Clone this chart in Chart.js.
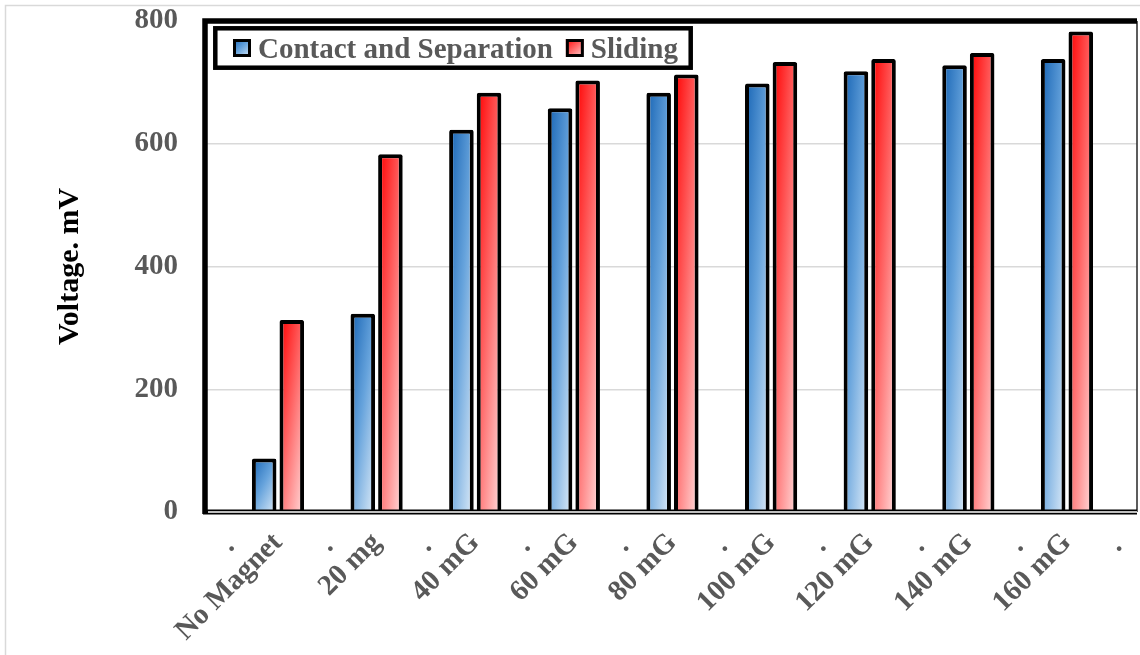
<!DOCTYPE html>
<html>
<head>
<meta charset="utf-8">
<script src="https://cdn.jsdelivr.net/npm/chart.js@4.4.1/dist/chart.umd.min.js"></script>
<style>
  html, body { margin: 0; padding: 0; background: #fff; }
  canvas { display: block; }
</style>
</head>
<body>
<canvas id="chart" width="1140" height="655"></canvas>
<script>
// data
const categories = ["No Magnet", "20 mg", "40 mG", "60 mG", "80 mG", "100 mG", "120 mG", "140 mG", "160 mG"];
const contactValues = [87, 323, 623, 658, 683, 698, 718, 728, 738];
const slidingValues = [313, 583, 683, 703, 713, 733, 738, 748, 783];
const seriesNames = ["Contact and Separation", "Sliding"];
const yTicks = [0, 200, 400, 600, 800];
const dividerTicks = [-0.47, 0.53, 1.53, 2.53, 3.53, 4.53, 5.53, 6.53, 7.53, 8.53];

const FONT = "'Liberation Serif', 'Times New Roman', serif";
const GREY = "#595959";
const CAT_PCT = 0.56;
const BAR_PCT = 0.89;
const X_MIN = -0.74, X_MAX = 8.71;

const BLUE = [[0, "#1764b4"], [0.45, "#66a3dc"], [1, "#eaf3fb"]];
const RED = [[0, "#ff0000"], [0.45, "#ff6666"], [1, "#ffe8e8"]];

function makeGrad(c, x0, y0, w, h, stops) {
  // diagonal-ish gradient: dark top-left, light bottom-right
  const a = 0.45, b = 0.5;
  const L2 = 1 / (a * a / (w * w) + b * b / (h * h));
  const g = c.createLinearGradient(x0, y0, x0 + a * L2 / w, y0 + b * L2 / h);
  stops.forEach(s => g.addColorStop(s[0], s[1]));
  return g;
}

function barFill(ctx, stops) {
  const chart = ctx.chart;
  if (ctx.type !== "data" || !chart.chartArea || !ctx.parsed) return stops[1][1];
  const xs = chart.scales.x, ys = chart.scales.y;
  const unit = Math.abs(xs.getPixelForValue(1) - xs.getPixelForValue(0));
  const slot = unit * CAT_PCT / 2;
  const w = slot * BAR_PCT;
  const cx = xs.getPixelForValue(ctx.parsed.x) + (ctx.datasetIndex - 0.5) * slot;
  const top = ys.getPixelForValue(ctx.parsed.y);
  const base = ys.getPixelForValue(0);
  return makeGrad(chart.ctx, cx - w / 2, top, w, Math.max(base - top, 1), stops);
}

const framePlugin = {
  id: "frame",
  afterDraw(chart) {
    const c = chart.ctx;
    const a = chart.chartArea;
    c.save();
    // outer light border
    c.strokeStyle = "#d9d9d9";
    c.lineWidth = 1.5;
    c.strokeRect(5.5, 5.5, 1160, 680);
    // plot frame
    c.strokeStyle = "#262626";
    c.lineWidth = 1.5;
    c.beginPath();
    c.moveTo(a.right, a.top);
    c.lineTo(a.right, a.bottom);
    c.stroke();
    c.strokeStyle = "#000";
    c.lineWidth = 5.5;
    c.beginPath();
    c.moveTo(a.left, a.bottom + 2);
    c.lineTo(a.left, a.top);
    c.lineTo(a.right, a.top);
    c.stroke();
    c.lineWidth = 5;
    c.beginPath();
    c.moveTo(a.left - 2, a.bottom);
    c.lineTo(a.right, a.bottom);
    c.stroke();
    c.strokeStyle = "#c0c0c0";
    c.lineWidth = 2;
    c.beginPath();
    c.moveTo(a.left + 3, a.bottom);
    c.lineTo(a.right, a.bottom);
    c.stroke();

    // legend
    c.fillStyle = "#fff";
    c.fillRect(215, 28, 476, 40);
    c.strokeStyle = "#000";
    c.lineWidth = 4.5;
    c.strokeRect(215.3, 28.3, 475.4, 39.4);
    c.font = "bold 29px " + FONT;
    c.textBaseline = "alphabetic";
    c.textAlign = "left";
    let x = 233;
    [BLUE, RED].forEach((stops, i) => {
      c.fillStyle = makeGrad(c, x, 39, 18, 18, stops);
      c.fillRect(x, 39, 18, 18);
      c.strokeStyle = "#000";
      c.lineWidth = 3;
      c.strokeRect(x + 1.5, 40.5, 15, 15);
      c.fillStyle = GREY;
      c.fillText(seriesNames[i], x + 25, 58);
      x = x + 25 + c.measureText(seriesNames[i]).width + 13;
    });
    c.restore();
  }
};

const tickFont = { family: FONT, size: 29, weight: "bold" };

new Chart(document.getElementById("chart"), {
  type: "bar",
  data: {
    datasets: [
      {
        label: seriesNames[0],
        data: categories.map((c, i) => ({ x: i, y: contactValues[i] })),
        backgroundColor: ctx => barFill(ctx, BLUE),
        borderColor: "#000",
        borderWidth: 4,
        borderRadius: 2,
        categoryPercentage: CAT_PCT,
        barPercentage: BAR_PCT
      },
      {
        label: seriesNames[1],
        data: categories.map((c, i) => ({ x: i, y: slidingValues[i] })),
        backgroundColor: ctx => barFill(ctx, RED),
        borderColor: "#000",
        borderWidth: 4,
        borderRadius: 2,
        categoryPercentage: CAT_PCT,
        barPercentage: BAR_PCT
      }
    ]
  },
  options: {
    responsive: false,
    animation: false,
    layout: { padding: { top: 0, right: 3, left: 0, bottom: 0 } },
    plugins: { legend: { display: false }, tooltip: { enabled: false } },
    scales: {
      x: {
        type: "linear",
        offset: false,
        min: X_MIN,
        max: X_MAX,
        weight: 1,
        afterBuildTicks: s => { s.ticks = categories.map((c, i) => ({ value: i })); },
        afterFit: s => { s.height = 143; s.paddingLeft = 0; s.paddingRight = 0; },
        grid: { display: false, offset: false },
        border: { display: false },
        ticks: {
          autoSkip: false,
          minRotation: 45,
          maxRotation: 45,
          padding: 6,
          color: GREY,
          font: tickFont,
          callback: v => categories[v]
        }
      },
      // the small dots between the category labels
      x2: {
        type: "linear",
        position: "bottom",
        offset: false,
        min: X_MIN,
        max: X_MAX,
        weight: 0,
        afterBuildTicks: s => { s.ticks = dividerTicks.map(v => ({ value: v })); },
        afterFit: s => { s.height = 0; s.paddingLeft = 0; s.paddingRight = 0; },
        grid: { display: false },
        border: { display: false },
        ticks: {
          autoSkip: false,
          maxRotation: 0,
          mirror: true,
          padding: -49,
          color: GREY,
          font: tickFont,
          callback: () => "."
        }
      },
      y: {
        min: 0,
        max: 800,
        afterBuildTicks: s => { s.ticks = yTicks.map(v => ({ value: v })); },
        afterFit: s => { s.width = 205; s.paddingTop = 21; s.paddingBottom = 0; },
        grid: { color: "#d9d9d9", lineWidth: 1.5, drawTicks: false },
        border: { display: false },
        ticks: { padding: 27, color: GREY, font: tickFont },
        title: {
          display: true,
          text: "Voltage. mV",
          color: "#000",
          font: { family: FONT, size: 30, weight: "bold" },
          padding: { top: 52, bottom: 0 }
        }
      }
    }
  },
  plugins: [framePlugin]
});
</script>
</body>
</html>
